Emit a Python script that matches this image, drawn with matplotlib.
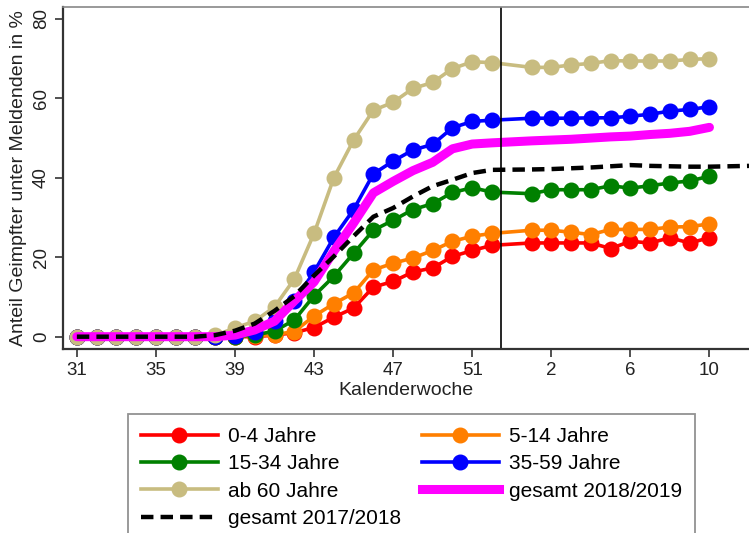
import matplotlib
matplotlib.use("Agg")
import numpy as np
import matplotlib.pyplot as plt
from matplotlib.lines import Line2D

plt.rcParams['font.family'] = ['Liberation Sans', 'DejaVu Sans']

# calendar weeks of the season 2020/2021 (week 53 has no data for the age groups)
weeks = list(range(31, 53)) + list(range(1, 11))
weeks_1718 = list(range(31, 53)) + list(range(1, 13))

age_0_4 = [0, 0, 0, 0, 0, 0, 0, 0, 0, 0, 0.4, 1.0, 2.3, 4.9, 7.2, 12.5, 13.9, 16.3, 17.3, 20.2, 21.7, 23.0,
           23.6, 23.6, 23.6, 23.6, 22.2, 24.0, 23.6, 24.9, 23.6, 24.9]
age_5_14 = [0, 0, 0, 0, 0, 0, 0, 0, 0, 0.2, 0.5, 1.3, 5.2, 8.3, 11.0, 16.8, 18.5, 19.8, 21.7, 24.0, 25.3, 26.0,
            26.8, 26.8, 26.3, 25.7, 27.0, 27.0, 27.0, 27.6, 27.7, 28.4]
age_15_34 = [0, 0, 0, 0, 0, 0, 0, 0, 0, 0.4, 1.4, 4.2, 10.3, 15.2, 21.0, 26.8, 29.3, 32.0, 33.5, 36.3, 37.5, 36.4,
             36.0, 37.0, 37.0, 37.0, 38.0, 37.4, 38.0, 38.7, 39.2, 40.4]
age_35_59 = [0, 0, 0, 0, 0, 0, 0, 0, 0.2, 1.2, 4.0, 9.0, 16.3, 25.0, 32.0, 41.0, 44.2, 47.0, 48.4, 52.6, 54.2, 54.5,
             55.0, 55.0, 55.0, 55.1, 55.1, 55.5, 56.0, 56.8, 57.2, 57.9]
age_60 = [0, 0, 0, 0, 0, 0, 0, 0.3, 2.2, 3.9, 7.5, 14.5, 26.0, 40.0, 49.5, 57.0, 59.0, 62.5, 64.0, 67.5, 69.2, 69.0,
          67.8, 67.8, 68.4, 68.8, 69.5, 69.4, 69.4, 69.4, 69.8, 70.0]
total_1819 = [0, 0, 0, 0, 0, 0, 0, 0, 0.4, 1.7, 3.9, 9.0, 13.8, 21.5, 28.6, 36.2, 39.1, 41.8, 43.9, 47.3, 48.5, 48.8,
              49.3, 49.5, 49.7, 50.0, 50.3, 50.5, 50.9, 51.2, 51.7, 52.7]
total_1718 = [0, 0, 0, 0, 0, 0, 0, 0.4, 1.5, 3.3, 6.5, 10.2, 15.4, 20.2, 25.3, 30.2, 32.4, 35.3, 37.9, 39.5, 41.2, 42.0,
              42.1, 42.2, 42.4, 42.6, 42.9, 43.2, 43.0, 42.9, 42.8, 42.8, 42.9, 43.0]

tick_weeks = [31, 35, 39, 43, 47, 51, 2, 6, 10]
year_break = 52.45


def pos(w):
    return w if w >= 31 else w + 53


x = [pos(w) for w in weeks]
x1718 = [pos(w) for w in weeks_1718]

fig = plt.figure(figsize=(7.49, 5.33), dpi=100)
ax = fig.add_axes([63 / 749, 1 - 349 / 533, 1 - 63 / 749, (349 - 7) / 533])

mk = dict(marker='o', markersize=10.5, lw=2.6)
ax.plot(x, age_0_4, color='#ff0000', **mk)
ax.plot(x, age_5_14, color='#ff7f00', **mk)
ax.plot(x, age_15_34, color='#008000', **mk)
ax.plot(x, age_35_59, color='#0000ff', **mk)
ax.plot(x, age_60, color='#c8bc80', **mk)
ax.plot(x, total_1819, color='#ff00ff', lw=6.5, solid_capstyle='round')
ax.plot(x1718, total_1718, color='black', lw=3.2, dashes=(2.8, 1.6))
ax.axvline(year_break, color='black', lw=1.2)

ax.set_xlim(30.3, 65.0)
ax.set_ylim(-3.1, 83)
ax.set_xticks([pos(w) for w in tick_weeks])
ax.set_xticklabels([str(w) for w in tick_weeks])
ax.set_yticks([0, 20, 40, 60, 80])
ax.tick_params(axis='both', labelsize=13.5, length=5.5, width=1.2, color='#333333', labelcolor='#222222', pad=4)
ax.tick_params(axis='y', labelrotation=90)
for lab in ax.get_yticklabels():
    lab.set_va('center')

ax.spines['right'].set_visible(False)
ax.spines['top'].set_color('#888888')
for s in ['left', 'bottom']:
    ax.spines[s].set_color('#333333')
    ax.spines[s].set_linewidth(1.6)
ax.spines['top'].set_linewidth(1.2)

ax.set_xlabel('Kalenderwoche', fontsize=14, labelpad=2, color='#222222')
ax.set_ylabel('Anteil Geimpfter unter Meldenden in %', fontsize=14, labelpad=4, color='#222222')

handles = [
    Line2D([], [], color='#ff0000', **mk),
    Line2D([], [], color='#008000', **mk),
    Line2D([], [], color='#c8bc80', **mk),
    Line2D([], [], color='black', lw=3.2, dashes=(2.8, 1.6)),
    Line2D([], [], color='#ff7f00', **mk),
    Line2D([], [], color='#0000ff', **mk),
    Line2D([], [], color='#ff00ff', lw=6.5),
]
labels = ['0-4 Jahre', '15-34 Jahre', 'ab 60 Jahre', 'gesamt 2017/2018',
          '5-14 Jahre', '35-59 Jahre', 'gesamt 2018/2019']
leg = fig.legend(handles, labels, ncol=2, loc='upper left', bbox_to_anchor=(128 / 749, 1 - 414 / 533),
                 fontsize=15, frameon=True, fancybox=False, edgecolor='#777777', borderaxespad=0,
                 handlelength=3.7, handletextpad=0.48, labelspacing=0.4, columnspacing=1.0,
                 borderpad=0.62)
leg.get_frame().set_linewidth(1.3)

fig.savefig('out.png', dpi=100)
